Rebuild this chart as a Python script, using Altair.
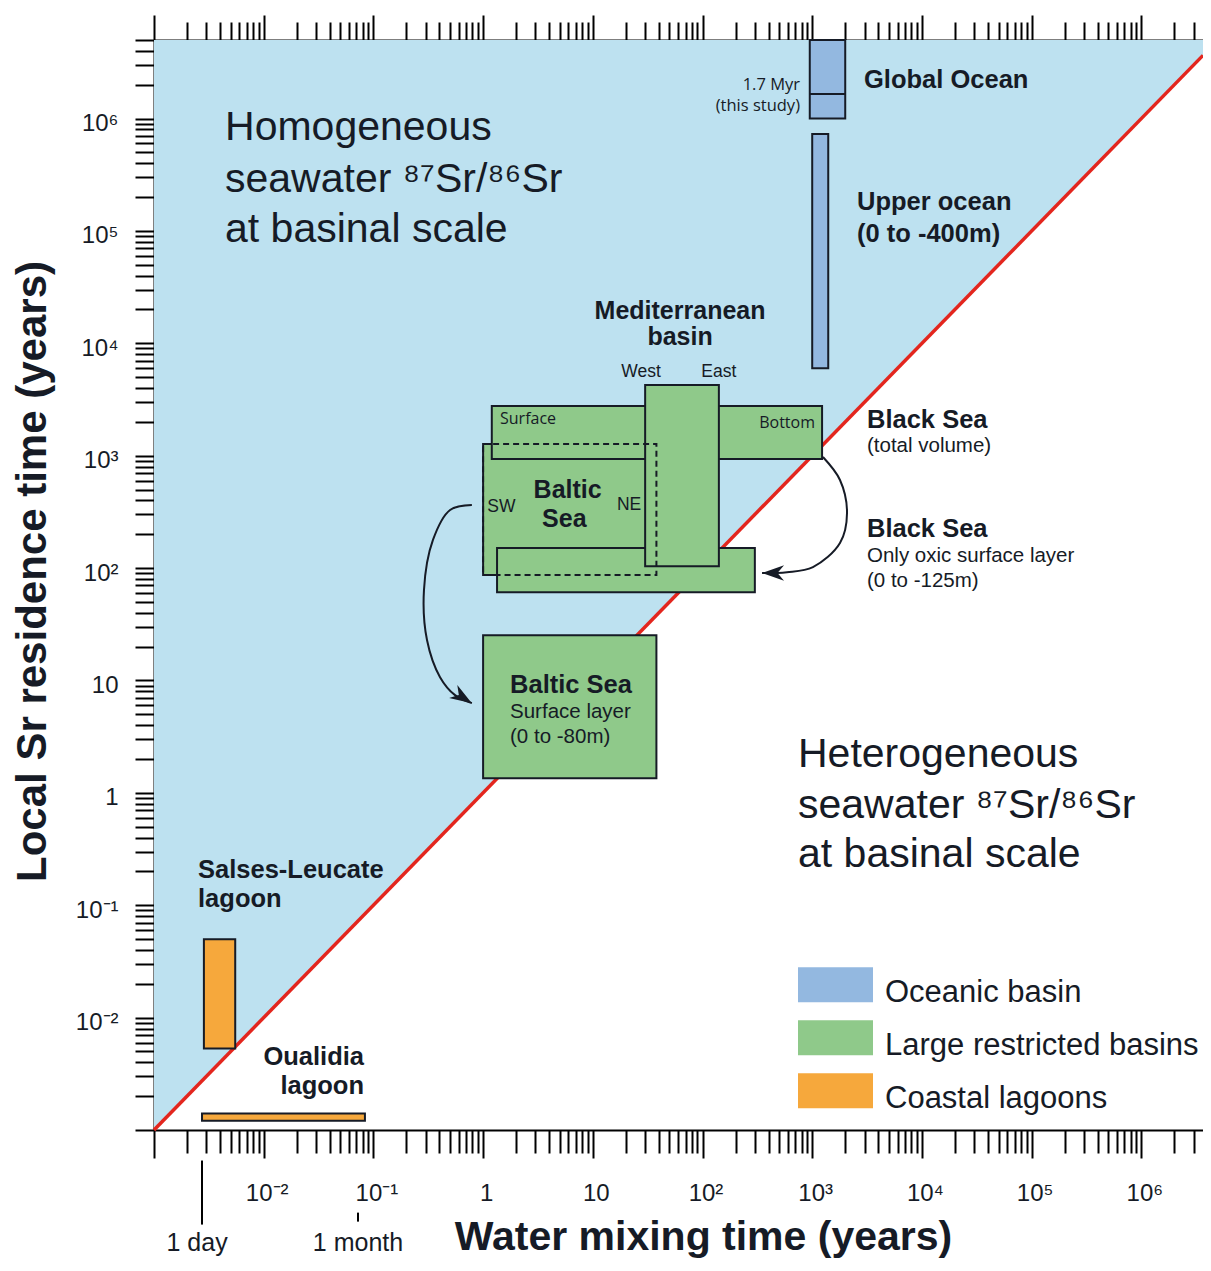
import json
import altair as alt
import pandas as pd

FONT = "Liberation Sans"
FONT2 = "Open Sans"
INK = "#161b26"
BLUE_BG = "#bde1f0"
RED = "#e3261e"

# ---------------- scales (years) ----------------
X_DOMAIN = [1e-3, 3.65e6]
Y_DOMAIN = [1e-3, 5e6]
DIAG_X = [1e-3, 3.65e6]          # y = x boundary

# ---------------- boxes ----------------
BOX_NAMES = ["Global Ocean", "Upper ocean", "Salses-Leucate lagoon", "Oualidia lagoon",
             "Baltic Sea", "Black Sea (total volume)", "Black Sea (oxic surface layer)",
             "Mediterranean basin", "Baltic Sea (surface layer)"]
BOX_TYPES = ["Oceanic basin", "Oceanic basin", "Coastal lagoons", "Coastal lagoons",
             "Large restricted basins", "Large restricted basins", "Large restricted basins",
             "Large restricted basins", "Large restricted basins"]
BOX_X1 = [950, 1000, 2.85e-3, 2.74e-3, 1.0, 1.2, 1.34, 30, 1.0]
BOX_X2 = [2000, 1400, 5.5e-3, 0.0837, 38, 1230, 300, 141, 38]
BOX_Y1 = [1.0e6, 6.0e3, 5.3e-3, 1.21e-3, 87, 935, 61, 104, 1.35]
BOX_Y2 = [5.0e6, 7.3e5, 0.0497, 1.40e-3, 1270, 2770, 151, 4260, 25.3]
GO_SPLIT_Y = 1.65e6   # 1.7 Myr divider in the Global Ocean box

CATS = ["Oceanic basin", "Large restricted basins", "Coastal lagoons"]
CAT_COLORS = ["#93b8e0", "#8fc98a", "#f6a83c"]

# ---------------- arrows ----------------
ARROW_ID = ["A"] * 8 + ["B"] * 7
ARROW_X = [0.79, 0.50, 0.349, 0.289, 0.308, 0.405, 0.555, 0.79,
           1253, 1791, 2076, 1791, 1016, 589, 349]
ARROW_Y = [364, 329, 178, 63.7, 22.9, 10.7, 7.40, 6.28,
           973, 608, 309, 167, 102, 92, 90.3]
HEAD_X = [0.79, 349]
HEAD_Y = [6.28, 90.3]
HEAD_ANGLE = [32, 180]

# ---------------- time markers under the x axis ----------------
MARK_X = [2.74e-3, 0.0724]
MARK_Y1 = [5.35e-4, 1.84e-4]
MARK_Y2 = [1.44e-4, 1.53e-4]
NOTE_TEXT = ["1 day", "1 month"]
NOTE_X = [2.47e-3, 0.0724]
NOTE_Y = [8.4e-5, 8.4e-5]

# ---------------- annotations ----------------
BIG_TEXT = ["Homogeneous", "seawater \u2078\u2077Sr/\u2078\u2076Sr", "at basinal scale",
            "Heterogeneous", "seawater \u2078\u2077Sr/\u2078\u2076Sr", "at basinal scale"]
BIG_X = [4.44e-3, 4.44e-3, 4.44e-3, 742, 742, 742]
BIG_Y = [6.48e5, 2.23e5, 8.0e4, 1.69, 0.594, 0.218]

BOLD_L_TEXT = ["Global Ocean", "Upper ocean", "(0 to -400m)", "Black Sea", "Black Sea",
               "Baltic Sea", "Salses-Leucate", "lagoon"]
BOLD_L_X = [2966, 2561, 2561, 3158, 3158, 1.76, 2.52e-3, 2.52e-3]
BOLD_L_Y = [1.88e6, 1.54e5, 8.0e4, 1765, 189, 7.7, 0.174, 0.096]

BOLD_C_TEXT = ["Mediterranean", "basin", "Baltic", "Sea"]
BOLD_C_X = [62.4, 62.4, 5.9, 5.5]
BOLD_C_Y = [1.65e4, 9700, 420, 232]

BOLD_R_TEXT = ["Oualidia", "lagoon"]
BOLD_R_X = [0.0821, 0.0821]
BOLD_R_Y = [3.75e-3, 2.07e-3]

REG_TEXT = ["(total volume)", "Only oxic surface layer", "(0 to -125m)",
            "Surface layer", "(0 to -80m)"]
REG_X = [3158, 3158, 3158, 1.76, 1.76]
REG_Y = [1075, 113, 67.7, 4.62, 2.77]

SMALL_TEXT = ["West", "East", "SW", "NE"]
SMALL_X = [27.5, 141, 1.47, 21.4]
SMALL_Y = [5020, 5020, 315, 328]

MYR_TEXT = ["1.7 Myr", "(this study)"]
MYR_X = [774, 774]
MYR_Y = [1.80e6, 1.16e6]

LAYER_L_TEXT = ["Surface"]
LAYER_L_X = [1.426]
LAYER_L_Y = [1916]
LAYER_R_TEXT = ["Bottom"]
LAYER_R_X = [1060]
LAYER_R_Y = [1765]

# ---------------- ticks ----------------
MAJOR = [10.0 ** e for e in range(-3, 7)]
MINOR = [k * 10.0 ** e for e in range(-3, 7) for k in range(2, 10)]
TICK_LABEL_VALUES = [0.01, 0.1, 1.0, 10.0, 100.0, 1000.0, 10000.0, 100000.0, 1000000.0]
TICK_LABELS = ["10\u207b\u00b2", "10\u207b\u00b9", "1", "10", "10\u00b2", "10\u00b3",
               "10\u2074", "10\u2075", "10\u2076"]
LABEL_EXPR = (f"{json.dumps(TICK_LABELS, ensure_ascii=False)}"
              f"[indexof({json.dumps(TICK_LABEL_VALUES)}, datum.value)] || ''")

xs = alt.Scale(type="log", domain=X_DOMAIN, nice=False)
ys = alt.Scale(type="log", domain=Y_DOMAIN, nice=False)

common = dict(grid=False, tickColor="#000", tickWidth=2, domainColor="#000",
              domainWidth=2, labelOverlap=False, labelFlush=False)

AX_BOTTOM_MAJOR = alt.Axis(orient="bottom", values=MAJOR, tickSize=28,
                           labelExpr=LABEL_EXPR, labelFont=FONT, labelFontSize=24,
                           labelColor=INK, labelPadding=23, labelOffset=3,
                           title="Water mixing time (years)", titleFont=FONT,
                           titleFontSize=41, titleFontWeight="bold", titleColor=INK,
                           titleX=549, titleY=119, titleAlign="center",
                           titleBaseline="alphabetic", **common)
AX_BOTTOM_MINOR = alt.Axis(orient="bottom", values=MINOR, tickSize=23, labels=False,
                           domain=False, title=None, **common)
AX_TOP_MAJOR = alt.Axis(orient="top", values=MAJOR, tickSize=25, labels=False,
                        title=None, **common)
AX_TOP_MINOR = alt.Axis(orient="top", values=MINOR, tickSize=18, labels=False,
                        domain=False, title=None, **common)
AX_LEFT = alt.Axis(orient="left", values=MAJOR + MINOR, tickSize=19,
                   labelExpr=LABEL_EXPR, labelFont=FONT, labelFontSize=24,
                   labelColor=INK, labelPadding=17, labelOffset=5,
                   title="Local Sr residence time (years)", titleFont=FONT,
                   titleFontSize=42, titleFontWeight="bold", titleColor=INK,
                   titleX=-109, titleY=531, titleAngle=270, titleAlign="center",
                   titleBaseline="alphabetic", **common)


def X(f, axis=None):
    return alt.X(f, type="quantitative", scale=xs, axis=axis)


def Y(f, axis=None):
    return alt.Y(f, type="quantitative", scale=ys, axis=axis)


diag = pd.DataFrame({"x": DIAG_X, "y": DIAG_X, "top": [Y_DOMAIN[1]] * 2})

bg = alt.Chart(diag).mark_area(color=BLUE_BG, opacity=1).encode(
    x=X("x", AX_BOTTOM_MAJOR), y=Y("y", AX_LEFT), y2="top")

red = alt.Chart(diag).mark_line(color=RED, strokeWidth=3.5).encode(
    x=X("x", AX_BOTTOM_MINOR), y=Y("y"))

boxes_df = pd.DataFrame({"name": BOX_NAMES, "type": BOX_TYPES, "x1": BOX_X1,
                         "x2": BOX_X2, "y1": BOX_Y1, "y2": BOX_Y2})

LEGEND = alt.Legend(title=None, orient="none", legendX=644, legendY=915,
                    direction="vertical", symbolType="M-1,-0.673L1,-0.673L1,0.26L-1,0.26Z",
                    symbolSize=5625, symbolStrokeWidth=0, symbolOpacity=1,
                    labelFont=FONT, labelFontSize=31, labelColor=INK, labelOffset=12,
                    labelLimit=500, rowPadding=-3.5, padding=0)

boxes = alt.Chart(boxes_df).mark_rect(stroke=INK, strokeWidth=2, opacity=1).encode(
    x=X("x1", AX_TOP_MAJOR), x2="x2", y=Y("y1"), y2="y2",
    color=alt.Color("type:N", scale=alt.Scale(domain=CATS, range=CAT_COLORS),
                    legend=LEGEND))

dash = alt.Chart(boxes_df[boxes_df["name"] == "Baltic Sea"]).mark_rect(
    fillOpacity=0, stroke=INK, strokeWidth=2, strokeDash=[6, 4]).encode(
    x=X("x1", AX_TOP_MINOR), x2="x2", y=Y("y1"), y2="y2")

go_df = pd.DataFrame({"x1": [BOX_X1[0]], "x2": [BOX_X2[0]], "y": [GO_SPLIT_Y]})
go_line = alt.Chart(go_df).mark_rule(color=INK, strokeWidth=2).encode(
    x=X("x1"), x2="x2", y=Y("y"))

arrow_df = pd.DataFrame({"id": ARROW_ID, "x": ARROW_X, "y": ARROW_Y,
                         "i": list(range(len(ARROW_X)))})
arrows = alt.Chart(arrow_df).mark_line(color=INK, strokeWidth=2,
                                       interpolate="catmull-rom").encode(
    x=X("x"), y=Y("y"), detail="id:N", order="i:Q")

head_df = pd.DataFrame({"x": HEAD_X, "y": HEAD_Y, "a": HEAD_ANGLE})
heads = alt.Chart(head_df).mark_point(shape="M0,0L-2,-0.7L-1.4,0L-2,0.7Z", size=484,
                                      filled=True, color=INK, opacity=1).encode(
    x=X("x"), y=Y("y"), angle=alt.Angle("a:Q", scale=None))

mark_df = pd.DataFrame({"x": MARK_X, "y1": MARK_Y1, "y2": MARK_Y2})
marks = alt.Chart(mark_df).mark_rule(color="#000", strokeWidth=2).encode(
    x=X("x"), y=Y("y1"), y2="y2")


def text_layer(texts, xv, yv, size, weight="normal", align="left", font=FONT):
    df = pd.DataFrame({"t": texts, "x": xv, "y": yv})
    return alt.Chart(df).mark_text(font=font, fontSize=size, fontWeight=weight,
                                   align=align, baseline="alphabetic",
                                   color=INK).encode(x=X("x"), y=Y("y"), text="t:N")


texts = [
    text_layer(BIG_TEXT, BIG_X, BIG_Y, 41),
    text_layer(BOLD_L_TEXT, BOLD_L_X, BOLD_L_Y, 25.5, "bold"),
    text_layer(BOLD_C_TEXT, BOLD_C_X, BOLD_C_Y, 25, "bold", "center"),
    text_layer(BOLD_R_TEXT, BOLD_R_X, BOLD_R_Y, 25.5, "bold", "right"),
    text_layer(REG_TEXT, REG_X, REG_Y, 20.5),
    text_layer(SMALL_TEXT, SMALL_X, SMALL_Y, 17.5, "normal", "center"),
    text_layer(MYR_TEXT, MYR_X, MYR_Y, 16.5, "normal", "right", FONT2),
    text_layer(LAYER_L_TEXT, LAYER_L_X, LAYER_L_Y, 16, "normal", "left", FONT2),
    text_layer(LAYER_R_TEXT, LAYER_R_X, LAYER_R_Y, 16, "normal", "right", FONT2),
    text_layer(NOTE_TEXT, NOTE_X, NOTE_Y, 25, "normal", "center"),
]

chart = alt.layer(bg, red, boxes, dash, go_line, arrows, heads, marks, *texts).resolve_axis(
    x="independent", y="independent").properties(
    width=1049, height=1090,
    autosize=alt.AutoSizeParams(type="none"),
    padding={"left": 146, "top": 32, "right": 0, "bottom": 128},
    background="white",
).configure_view(stroke=None).configure(font=FONT)

chart.save("out.html", embed_options={"renderer": "svg", "actions": False})
